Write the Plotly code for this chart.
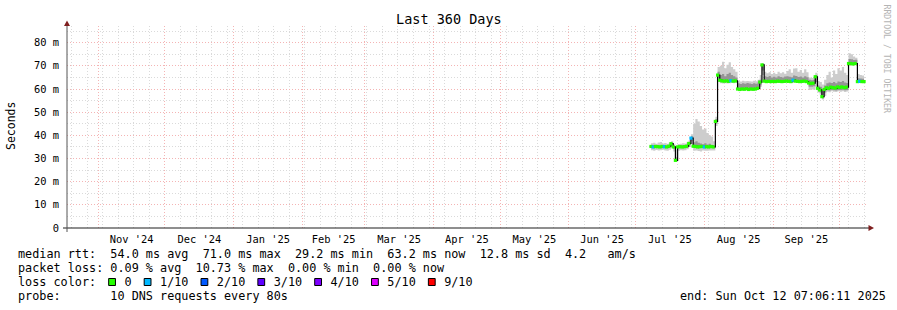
import plotly.graph_objects as go
import pandas as pd

# ---------------- data (ms) ----------------
# daily buckets from 2025-07-08 to 2025-10-12
day_first = "2025-07-08"
day_last = "2025-10-12"

med_jul = [35.2, 35.0, 35.2, 35.1, 35.0, 35.2, 35.1, 35.0, 35.3, 36.4, 35.0, 29.2,
           35.0, 35.1, 35.0, 35.1, 35.3, 36.5, 38.8, 35.3, 35.2, 35.0, 35.1, 35.2]
med_aug = [35.0, 35.1, 35.0, 35.2, 35.0, 46.0, 66.0, 63.8, 63.5, 63.4, 63.5, 63.3,
           63.6, 63.4, 63.5, 60.0, 59.8, 60.0, 59.9, 60.1, 59.8, 60.0, 59.9, 60.0,
           60.3, 63.0, 70.4, 63.4, 63.2, 63.3, 63.2]
med_sep = [63.3, 63.2, 63.4, 63.3, 63.2, 63.3, 63.4, 63.3, 63.2, 63.8, 63.4, 63.3,
           63.2, 63.3, 63.4, 63.2, 62.6, 62.4, 62.5, 65.3, 60.3, 59.6, 56.7, 59.8,
           60.5, 60.3, 60.8, 60.6, 60.4, 60.9]
med_oct = [60.7, 60.9, 60.6, 60.8, 71.0, 71.0, 70.8, 71.0, 63.2, 63.3, 63.2, 63.2]

lo_jul = [33.6, 33.4, 33.7, 33.5, 33.6, 33.8, 33.5, 33.4, 33.8, 34.6, 33.0, 29.0,
          33.4, 33.6, 33.5, 33.6, 34.0, 35.0, 36.2, 33.4, 33.5, 33.2, 33.0, 33.5]
lo_aug = [33.3, 33.4, 33.5, 33.5, 33.5, 44.0, 63.0, 62.5, 62.4, 62.5, 62.4, 62.5,
          62.6, 62.5, 62.6, 59.5, 59.3, 59.5, 59.4, 59.6, 59.3, 59.5, 59.4, 59.5,
          59.8, 61.0, 66.0, 62.8, 62.7, 62.8, 62.7]
lo_sep = [62.8, 62.7, 62.9, 62.8, 62.7, 62.8, 62.9, 62.8, 62.7, 63.0, 62.9, 62.8,
          62.7, 62.8, 62.9, 62.7, 59.6, 59.8, 59.7, 61.0, 58.5, 57.5, 55.5, 57.0,
          58.8, 58.6, 59.0, 58.8, 58.7, 59.0]
lo_oct = [58.8, 59.0, 58.7, 58.9, 70.2, 70.4, 70.3, 70.4, 62.6, 62.7, 62.6, 62.6]

hi_jul = [36.6, 36.8, 36.4, 36.9, 37.1, 36.5, 36.7, 36.4, 36.9, 37.4, 36.2, 34.0,
          36.3, 36.4, 36.6, 36.5, 37.0, 38.0, 40.5, 45.0, 47.0, 46.0, 44.0, 42.5]
hi_aug = [43.0, 41.0, 40.0, 39.5, 37.5, 48.0, 69.5, 70.0, 71.8, 69.0, 70.5, 71.5,
          69.5, 68.5, 67.5, 63.5, 63.2, 63.6, 63.3, 63.5, 63.4, 63.2, 63.6, 63.3,
          64.0, 66.0, 71.2, 67.5, 66.8, 67.2, 66.5]
hi_sep = [67.0, 66.5, 67.5, 66.8, 67.2, 66.6, 67.8, 68.5, 67.0, 68.8, 69.0, 67.5,
          68.2, 67.0, 68.5, 67.2, 65.0, 64.8, 65.2, 67.0, 63.5, 63.0, 62.0, 64.0,
          66.0, 67.5, 65.0, 68.0, 66.5, 69.0]
hi_oct = [68.0, 69.5, 67.0, 66.0, 75.4, 75.0, 74.0, 73.5, 66.5, 66.0, 65.8, 66.2]

core_lo_jul = [34.6, 34.4, 34.6, 34.5, 34.4, 34.6, 34.5, 34.4, 34.7, 35.6, 34.2, 29.1,
               34.4, 34.5, 34.4, 34.5, 34.7, 35.8, 37.8, 34.7, 34.6, 34.4, 34.5, 34.6]
core_lo_aug = [34.4, 34.5, 34.4, 34.6, 34.4, 45.0, 64.5, 63.0, 63.0, 63.0, 62.9, 63.0,
               63.1, 63.0, 63.0, 59.8, 59.6, 59.8, 59.7, 59.9, 59.6, 59.8, 59.7, 59.8,
               60.1, 62.0, 68.0, 63.0, 62.9, 63.0, 62.9]
core_lo_sep = [63.0, 62.9, 63.0, 63.0, 62.9, 63.0, 63.0, 63.0, 62.9, 63.3, 63.0, 63.0,
               62.9, 63.0, 63.0, 62.9, 61.0, 61.0, 61.2, 63.0, 59.5, 58.5, 56.0, 58.5,
               59.5, 59.4, 59.6, 59.5, 59.4, 59.6]
core_lo_oct = [59.6, 59.7, 59.5, 59.6, 70.6, 70.7, 70.5, 70.7, 62.9, 63.0, 62.9, 62.9]

core_hi_jul = [35.8, 35.6, 35.8, 35.7, 35.6, 35.8, 35.7, 35.6, 35.9, 36.8, 35.5, 30.5,
               35.6, 35.7, 35.6, 35.7, 36.0, 37.2, 39.6, 37.0, 37.5, 36.8, 36.5, 36.2]
core_hi_aug = [36.6, 36.0, 36.4, 35.8, 35.6, 47.0, 67.5, 66.0, 66.5, 65.5, 66.5, 67.0,
               66.0, 65.5, 65.0, 62.5, 62.2, 62.5, 62.3, 62.6, 62.4, 62.2, 62.5, 62.3,
               62.8, 64.0, 70.8, 65.5, 65.2, 65.6, 65.0]
core_hi_sep = [65.3, 65.0, 65.5, 65.2, 65.0, 65.4, 65.5, 65.3, 65.1, 65.8, 65.6, 65.2,
               65.4, 65.0, 65.5, 65.1, 64.0, 63.8, 64.0, 66.0, 61.5, 61.0, 59.5, 61.5,
               62.5, 62.8, 62.6, 63.0, 62.5, 63.2]
core_hi_oct = [63.0, 63.5, 62.8, 62.6, 73.0, 72.8, 72.5, 72.6, 64.6, 64.5, 64.4, 64.6]

# lost packets (of 10) per bucket
loss_jul = [0, 1, 0, 0, 0, 0, 1, 0, 0, 0, 0, 0, 0, 0, 0, 0, 0, 0, 1, 0, 0, 0, 0, 0]
loss_aug = [1, 0, 0, 0, 0, 0, 0, 0, 0, 0, 0, 0, 1, 0, 0, 0, 0, 0, 0, 0, 0, 0, 0, 0,
            0, 0, 0, 0, 0, 0, 0]
loss_sep = [0, 0, 0, 0, 0, 0, 0, 0, 0, 1, 0, 0, 0, 0, 0, 0, 0, 0, 0, 0, 0, 0, 0, 0,
            0, 0, 0, 0, 0, 0]
loss_oct = [0, 0, 0, 0, 0, 0, 0, 0, 0, 1, 0, 0]

loss_labels = ["0", "1/10", "2/10", "3/10", "4/10", "5/10", "9/10"]
loss_colors = ["#26ff00", "#00b8ff", "#0059ff", "#5e00ff", "#7e00ff", "#dd00ff", "#ff0000"]

y_tick_vals = [0, 10, 20, 30, 40, 50, 60, 70, 80]
y_tick_text = ["0", "10 m", "20 m", "30 m", "40 m", "50 m", "60 m", "70 m", "80 m"]

x_start = pd.Timestamp("2024-10-17 21:00")
x_end = x_start + pd.Timedelta(days=360)

title_text = "Last 360 Days"
stats_lines = [
    "median rtt:  54.0 ms avg  71.0 ms max  29.2 ms min  63.2 ms now  12.8 ms sd  4.2   am/s",
    "packet loss: 0.09 % avg  10.73 % max  0.00 % min  0.00 % now",
]
probe_line = "probe:       10 DNS requests every 80s"
end_line = "end: Sun Oct 12 07:06:11 2025"

# ---------------- build ----------------
dates = pd.date_range(day_first, day_last, freq="D")
median = med_jul + med_aug + med_sep + med_oct
smoke_lo = lo_jul + lo_aug + lo_sep + lo_oct
smoke_hi = hi_jul + hi_aug + hi_sep + hi_oct
core_lo = core_lo_jul + core_lo_aug + core_lo_sep + core_lo_oct
core_hi = core_hi_jul + core_hi_aug + core_hi_sep + core_hi_oct
loss = loss_jul + loss_aug + loss_sep + loss_oct
mcolors = [loss_colors[v] for v in loss]

W, H = 897, 310
L, R, T, B = 67, 31, 26, 82
PW, PH = W - L - R, H - T - B


def px(x):
    return (x - L) / PW


def py(y):
    return (H - B - y) / PH


MONO = "DejaVu Sans Mono"
MGRID = "#f4b4b4"
GRID = "#dadada"
ARROW = "#7f1f1f"

fig = go.Figure()
fig.add_trace(go.Scatter(x=dates, y=smoke_lo, mode="lines",
                         line=dict(width=0, shape="hv", color="#cccccc"), hoverinfo="skip"))
fig.add_trace(go.Scatter(x=dates, y=smoke_hi, mode="lines",
                         line=dict(width=0, shape="hv", color="#cccccc"),
                         fill="tonexty", fillcolor="#cdcdcd", hoverinfo="skip"))
fig.add_trace(go.Scatter(x=dates, y=core_lo, mode="lines",
                         line=dict(width=0, shape="hv", color="#999999"), hoverinfo="skip"))
fig.add_trace(go.Scatter(x=dates, y=core_hi, mode="lines",
                         line=dict(width=0, shape="hv", color="#999999"),
                         fill="tonexty", fillcolor="#959595", hoverinfo="skip"))
fig.add_trace(go.Scatter(x=dates, y=median, mode="lines",
                         line=dict(width=1.2, shape="hv", color="#000000")))
fig.add_trace(go.Scatter(x=dates, y=median, mode="markers",
                         marker=dict(symbol="square", size=3.2, color=mcolors,
                                     line=dict(width=0))))

fig.update_layout(
    width=W, height=H,
    margin=dict(l=L, r=R, t=T, b=B, pad=0),
    paper_bgcolor="white", plot_bgcolor="white",
    showlegend=False,
    font=dict(family=MONO, color="black"),
    xaxis=dict(
        type="date", range=[x_start, x_end],
        dtick="M1", tick0="2024-11-01", tickformat="%b '%y", ticklabelmode="period",
        showgrid=True, gridcolor=MGRID, griddash="1px,2px", gridwidth=1,
        ticks="", showline=False, zeroline=False, ticklabelstandoff=4,
        tickfont=dict(family=MONO, size=10.4, color="black"),
        minor=dict(dtick=7 * 86400000, tick0="2024-10-27", showgrid=True,
                   gridcolor=GRID, griddash="1px,2px", gridwidth=1, ticks=""),
    ),
    yaxis=dict(
        range=[0, 87.2], tickmode="array", tickvals=y_tick_vals, ticktext=y_tick_text,
        showgrid=True, gridcolor=MGRID, griddash="1px,2px", gridwidth=1,
        ticks="", showline=False, zeroline=False, ticklabelstandoff=7,
        tickfont=dict(family=MONO, size=10.4, color="black"),
        minor=dict(dtick=5, tick0=0, showgrid=True, gridcolor=GRID,
                   griddash="1px,2px", gridwidth=1, ticks=""),
    ),
)

shapes = []
# axes
shapes.append(dict(type="line", xref="paper", yref="paper",
                   x0=px(63), x1=px(869), y0=py(228), y1=py(228),
                   line=dict(color="#1f1f1f", width=1)))
shapes.append(dict(type="line", xref="paper", yref="paper",
                   x0=px(67), x1=px(67), y0=py(232), y1=py(23),
                   line=dict(color="#555555", width=1)))
# arrows
shapes.append(dict(type="path", xref="paper", yref="paper",
                   path=f"M {px(67)} {py(20.5)} L {px(64)} {py(26)} L {px(70)} {py(26)} Z",
                   fillcolor=ARROW, line=dict(width=0)))
shapes.append(dict(type="path", xref="paper", yref="paper",
                   path=f"M {px(874)} {py(228)} L {px(868.5)} {py(225)} L {px(868.5)} {py(231)} Z",
                   fillcolor=ARROW, line=dict(width=0)))

FS = 11.8
CW = 0.6021 * FS
TX = 16
NB = "\u00a0"

annotations = []
annotations.append(dict(text=title_text, xref="paper", yref="paper",
                        x=px(448.5), y=py(19), xanchor="center", yanchor="middle",
                        showarrow=False, font=dict(family=MONO, size=13.5, color="black")))
annotations.append(dict(text="Seconds", xref="paper", yref="paper",
                        x=px(11), y=py(126), xanchor="center", yanchor="middle",
                        textangle=-90, showarrow=False,
                        font=dict(family=MONO, size=11.5, color="black")))
annotations.append(dict(text="RRDTOOL / TOBI OETIKER", xref="paper", yref="paper",
                        x=px(886.5), y=py(59), xanchor="center", yanchor="middle",
                        textangle=90, showarrow=False,
                        font=dict(family=MONO, size=8.2, color="#b4b4b4")))

line_y = [254, 268, 282, 296]
for i, s in enumerate(stats_lines):
    annotations.append(dict(text=s.replace(" ", NB), xref="paper", yref="paper",
                            x=px(TX), y=py(line_y[i]), xanchor="left", yanchor="middle",
                            showarrow=False, font=dict(family=MONO, size=FS, color="black")))

# loss color line
lc = "loss color:  "
sq_pos = []
for lab in loss_labels:
    sq_pos.append(len(lc))
    lc += "  " + lab + "  "
annotations.append(dict(text=lc.rstrip().replace(" ", NB), xref="paper", yref="paper",
                        x=px(TX), y=py(line_y[2]), xanchor="left", yanchor="middle",
                        showarrow=False, font=dict(family=MONO, size=FS, color="black")))
for n, col in zip(sq_pos, loss_colors):
    x0 = TX + n * CW + 0.3
    shapes.append(dict(type="rect", xref="paper", yref="paper",
                       x0=px(x0), x1=px(x0 + 6.8), y0=py(278.5), y1=py(285.5),
                       fillcolor=col, line=dict(color="black", width=1)))

annotations.append(dict(text=probe_line.replace(" ", NB), xref="paper", yref="paper",
                        x=px(TX), y=py(line_y[3]), xanchor="left", yanchor="middle",
                        showarrow=False, font=dict(family=MONO, size=FS, color="black")))
annotations.append(dict(text=end_line.replace(" ", NB), xref="paper", yref="paper",
                        x=px(677.5), y=py(line_y[3]), xanchor="left", yanchor="middle",
                        showarrow=False, font=dict(family=MONO, size=FS, color="black")))

fig.update_layout(shapes=shapes, annotations=annotations)
fig.write_html("out.html")
